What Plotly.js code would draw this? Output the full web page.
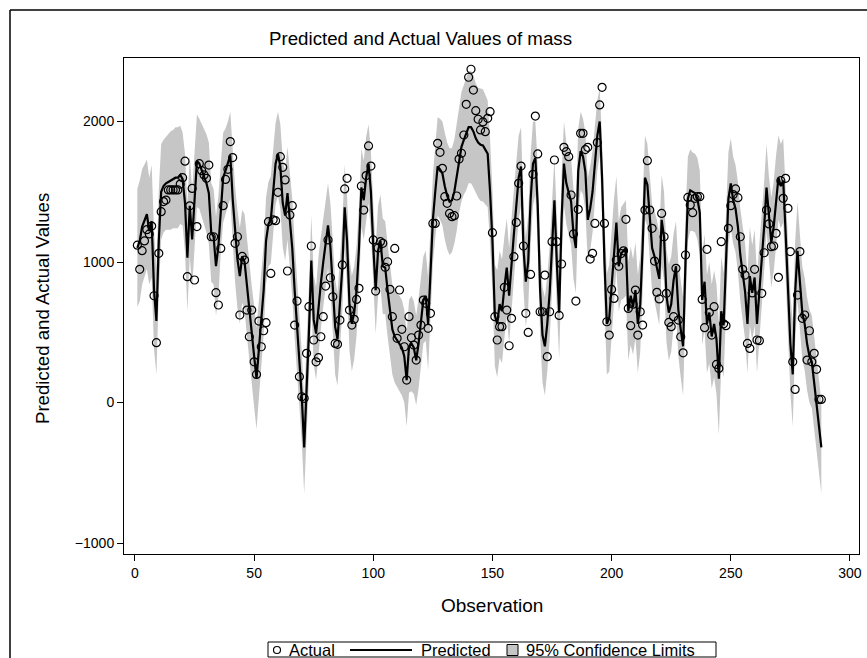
<!DOCTYPE html>
<html>
<head>
<meta charset="utf-8">
<script src="https://cdn.plot.ly/plotly-3.0.1.min.js"></script>
<style>html,body{margin:0;padding:0;background:#fff;}#chart{width:867px;height:658px;}</style>
</head>
<body>
<div id="chart"></div>
<script>
// Observation numbers 1..288
const observations = Array.from({length: 288}, (_, i) => i + 1);

const actual = [
1120,948,1081,1150,1230,1200,1256,760,426,1062,
1358,1430,1441,1513,1513,1513,1513,1513,1555,1600,
1718,896,1400,1524,872,1252,1700,1650,1620,1596,
1690,1180,1180,782,694,1097,1401,1588,1660,1857,
1743,1133,1180,623,1040,1014,658,468,658,290,
200,580,397,511,568,1287,919,1300,1294,1496,
1750,1674,1584,936,1335,1401,551,722,184,41,
30,350,682,1114,445,290,319,468,611,829,
1157,888,753,421,414,587,979,1520,1596,658,
551,592,734,813,1541,1370,1615,1826,1683,1157,
793,1100,1145,1133,962,1002,806,611,1097,457,
801,521,397,160,611,461,409,302,480,551,
729,706,528,635,1275,1275,1845,1781,1667,1465,
1418,1346,1323,1330,1470,1733,1774,1904,2122,2315,
2372,2224,2077,2016,1940,1997,1928,2023,2070,1209,
611,445,540,540,820,658,404,599,1038,1282,
1560,1683,1114,635,499,912,1624,2039,1769,646,
646,907,326,646,1145,1726,1145,620,986,1816,
1785,1750,1477,1200,722,1375,1916,1916,1800,1816,
1021,1062,1275,1850,2118,2243,1275,575,480,805,
741,1014,970,1060,1080,1304,670,547,700,800,
480,646,551,1370,1721,1370,1240,1007,784,737,
1346,1180,777,570,540,611,955,587,468,354,
1050,1460,1406,1351,1453,1465,1465,734,533,1090,
640,480,682,271,243,1145,560,547,1240,1401,
1480,1520,1458,1180,948,907,421,385,780,948,
445,440,777,1066,1370,1271,1109,1114,1204,891,
1579,1453,1596,1382,1074,290,93,765,1074,599,
623,302,511,290,350,236,22,22
];

const predicted = [
1100,1150,1250,1300,1340,1220,1290,800,580,1150,
1500,1540,1560,1570,1580,1590,1600,1600,1620,1590,
1420,1030,1400,1160,1440,1720,1700,1650,1610,1560,
1490,1210,1180,970,1110,1400,1600,1650,1700,1760,
1450,1200,1020,900,1040,1000,820,640,470,330,
170,380,560,800,1150,1270,1300,1480,1700,1770,
1680,1420,1330,1490,1300,1100,800,560,250,40,
-320,60,500,1010,590,490,700,850,1000,1150,
1260,1110,780,540,450,700,960,1390,1150,700,
560,640,800,1100,1530,1440,1600,1700,1500,1110,
800,1080,1150,970,960,800,650,520,470,440,
420,390,330,160,400,420,390,300,420,600,
730,760,560,920,1300,1500,1680,1660,1630,1540,
1470,1430,1440,1500,1600,1730,1820,1870,1910,1960,
1960,1930,1880,1850,1835,1830,1800,1770,1500,1150,
620,560,700,650,820,960,760,1000,1200,1400,
1600,1680,1100,860,1000,1440,1700,1740,1400,800,
480,400,560,780,1100,1440,1000,640,1300,1700,
1560,1500,1430,1200,1100,1650,1790,1750,1640,1300,
1380,1500,1700,1900,2000,1600,1000,560,600,850,
1100,1280,970,1060,1080,1100,650,760,680,800,
560,700,1100,1600,1550,1300,1100,1040,970,880,
1300,1180,760,640,700,870,970,660,520,400,
1000,1450,1510,1500,1490,1450,1350,730,860,560,
640,470,560,450,170,650,550,1000,1450,1560,
1440,1380,1250,1050,900,790,560,900,780,890,
560,780,1010,1250,1530,1300,1140,1250,1450,1600,
1540,1580,1210,780,420,200,780,1080,830,640,
560,420,330,290,140,-30,-170,-320
];

const ciUpper = [
1520,1580,1660,1700,1730,1600,1690,1220,960,1510,
1840,1870,1890,1910,1930,1940,1960,1960,1970,1920,
1770,1410,1760,1510,1780,2050,2020,1980,1950,1910,
1850,1560,1520,1320,1470,1730,1920,1950,2000,2070,
1780,1540,1370,1240,1370,1340,1170,990,830,690,
530,730,900,1120,1460,1570,1610,1780,1990,2070,
1980,1730,1650,1820,1640,1450,1140,890,570,360,
10,380,830,1330,910,820,1040,1180,1320,1460,
1560,1420,1110,880,780,1020,1270,1690,1470,1030,
900,970,1120,1400,1810,1720,1890,1980,1790,1410,
1110,1400,1480,1310,1290,1130,970,840,800,770,
760,730,660,490,730,760,720,620,740,910,
1040,1080,890,1240,1610,1830,2030,2020,2000,1920,
1850,1810,1810,1870,1980,2110,2210,2260,2310,2360,
2360,2330,2270,2240,2235,2230,2190,2150,1870,1510,
980,940,1080,1020,1180,1310,1100,1330,1520,1710,
1900,1960,1400,1180,1330,1760,2000,2000,1680,1120,
820,750,900,1110,1420,1740,1320,970,1620,2000,
1850,1800,1740,1520,1420,1950,2070,2020,1920,1600,
1680,1790,1970,2150,2240,1860,1300,920,980,1220,
1450,1610,1290,1390,1420,1440,1000,1110,1020,1140,
910,1040,1420,1900,1840,1600,1410,1360,1300,1210,
1620,1500,1090,980,1040,1200,1290,990,860,750,
1330,1750,1800,1780,1770,1740,1650,1050,1200,910,
1000,840,940,840,570,1040,920,1350,1780,1880,
1750,1690,1570,1380,1240,1130,910,1250,1120,1230,
910,1120,1340,1570,1840,1610,1460,1570,1760,1900,
1840,1880,1520,1110,770,570,1140,1430,1170,970,
890,750,660,620,470,300,160,10
];

const ciLower = [
680,720,840,900,950,840,890,380,200,790,
1160,1210,1230,1230,1230,1240,1240,1240,1270,1260,
1070,650,1040,810,1100,1390,1380,1320,1270,1210,
1130,860,840,620,750,1070,1280,1350,1400,1450,
1120,860,670,560,710,660,470,290,110,-30,
-190,30,220,480,840,970,990,1180,1410,1470,
1380,1110,1010,1160,960,750,460,230,-70,-280,
-650,-260,170,690,270,160,360,520,680,840,
960,800,450,200,120,380,650,1090,830,370,
220,310,480,800,1250,1160,1310,1420,1210,810,
490,760,820,630,630,470,330,200,140,110,
80,50,0,-170,70,80,60,-20,100,290,
420,440,230,600,990,1170,1330,1300,1260,1160,
1090,1050,1070,1130,1220,1350,1430,1480,1510,1560,
1560,1530,1490,1460,1435,1430,1410,1390,1130,790,
260,180,320,280,460,610,420,670,880,1090,
1300,1400,800,540,670,1120,1400,1480,1120,480,
140,50,220,450,780,1140,680,310,980,1400,
1270,1200,1120,880,780,1350,1510,1480,1360,1000,
1080,1210,1430,1650,1760,1340,700,200,220,480,
750,950,650,730,740,760,300,410,340,460,
210,360,780,1300,1260,1000,790,720,640,550,
980,860,430,300,360,540,650,330,180,50,
670,1150,1220,1220,1210,1160,1050,410,520,210,
280,100,180,60,-230,260,180,650,1120,1240,
1130,1070,930,720,560,450,210,550,440,550,
210,440,680,930,1220,990,820,930,1140,1300,
1240,1280,900,450,70,-170,420,730,490,310,
230,90,0,-40,-190,-360,-500,-650
];

const yTickVals = [-1000, 0, 1000, 2000];
const xTickVals = [0, 50, 100, 150, 200, 250, 300];
const legendLabels = ['Actual', 'Predicted', '95% Confidence Limits'];

const FONT = 'Liberation Sans, Arial, Helvetica, sans-serif';
const bandColor = '#c6c6c6';

const traces = [
  {x: observations, y: ciLower, type: 'scatter', mode: 'lines',
   line: {width: 0, color: bandColor}, hoverinfo: 'skip', showlegend: false},
  {x: observations, y: ciUpper, type: 'scatter', mode: 'lines', fill: 'tonexty',
   fillcolor: bandColor, line: {width: 0, color: bandColor},
   name: legendLabels[2], showlegend: false},
  {x: observations, y: predicted, type: 'scatter', mode: 'lines',
   line: {color: '#000000', width: 2.2}, name: legendLabels[1], showlegend: false},
  {x: observations, y: actual, type: 'scatter', mode: 'markers',
   marker: {symbol: 'circle-open', size: 8, color: '#000000', line: {width: 1.2, color: '#000000'}},
   name: legendLabels[0], showlegend: false}
];

// pixel helpers for the plot area (l=124, r=8 -> width 735; t=58, b=104 -> height 496)
const px = v => (v - 124) / 735;
const py = v => (554 - v) / 496;

const legendFont = {family: FONT, size: 16.5, color: '#000000'};

const layout = {
  width: 867, height: 658,
  margin: {l: 124, r: 8, t: 58, b: 104},
  paper_bgcolor: '#ffffff', plot_bgcolor: '#ffffff',
  font: {family: FONT, size: 12, color: '#000000'},
  showlegend: false,
  xaxis: {
    range: [-4.6, 303.8], tickvals: xTickVals, ticks: 'outside', ticklen: 6,
    tickcolor: '#000000', tickwidth: 1, showgrid: false, zeroline: false,
    showline: true, linecolor: '#000000', linewidth: 1, mirror: true,
    tickfont: {family: FONT, size: 14, color: '#000000'},
    title: {text: ''}
  },
  yaxis: {
    range: [-1078, 2452], tickvals: yTickVals, ticks: 'outside', ticklen: 6,
    tickcolor: '#000000', tickwidth: 1, showgrid: false, zeroline: false,
    showline: true, linecolor: '#000000', linewidth: 1, mirror: true,
    tickfont: {family: FONT, size: 14, color: '#000000'},
    title: {text: ''}
  },
  annotations: [
    {text: 'Predicted and Actual Values of mass', xref: 'paper', yref: 'paper',
     x: px(420), y: py(38), xanchor: 'center', yanchor: 'middle', showarrow: false,
     font: {family: FONT, size: 18.7, color: '#000000'}},
    {text: 'Observation', xref: 'paper', yref: 'paper',
     x: px(492), y: py(605), xanchor: 'center', yanchor: 'middle', showarrow: false,
     font: {family: FONT, size: 19, color: '#000000'}},
    {text: 'Predicted and Actual Values', xref: 'paper', yref: 'paper',
     x: px(42), y: py(309), xanchor: 'center', yanchor: 'middle', textangle: -90, showarrow: false,
     font: {family: FONT, size: 18.6, color: '#000000'}},
    {text: legendLabels[0], xref: 'paper', yref: 'paper', x: px(287), y: py(650),
     xanchor: 'left', yanchor: 'middle', showarrow: false, font: legendFont},
    {text: legendLabels[1], xref: 'paper', yref: 'paper', x: px(419), y: py(650),
     xanchor: 'left', yanchor: 'middle', showarrow: false, font: legendFont},
    {text: legendLabels[2], xref: 'paper', yref: 'paper', x: px(524), y: py(650),
     xanchor: 'left', yanchor: 'middle', showarrow: false, font: legendFont}
  ],
  shapes: [
    // outer frame (left and top edges)
    {type: 'line', xref: 'paper', yref: 'paper', x0: px(10), x1: px(880), y0: py(10), y1: py(10),
     line: {color: '#000000', width: 1.5}},
    {type: 'line', xref: 'paper', yref: 'paper', x0: px(10), x1: px(10), y0: py(10), y1: py(680),
     line: {color: '#000000', width: 1.5}},
    // legend box
    {type: 'rect', xref: 'paper', yref: 'paper', x0: px(268), x1: px(716), y0: py(657), y1: py(642),
     line: {color: '#000000', width: 1}, fillcolor: 'rgba(0,0,0,0)'},
    // legend: circle
    {type: 'circle', xref: 'paper', yref: 'paper', xsizemode: 'pixel', ysizemode: 'pixel',
     xanchor: px(277), yanchor: py(650), x0: -3.5, x1: 3.5, y0: -3.5, y1: 3.5,
     line: {color: '#000000', width: 1.2}, fillcolor: 'rgba(0,0,0,0)'},
    // legend: line
    {type: 'line', xref: 'paper', yref: 'paper', x0: px(350), x1: px(412), y0: py(650), y1: py(650),
     line: {color: '#000000', width: 2.2}},
    // legend: band square
    {type: 'rect', xref: 'paper', yref: 'paper', x0: px(507), x1: px(518), y0: py(655.5), y1: py(644.5),
     line: {color: '#000000', width: 1}, fillcolor: bandColor}
  ]
};

Plotly.newPlot('chart', traces, layout, {displayModeBar: false, staticPlot: true});
</script>
</body>
</html>
